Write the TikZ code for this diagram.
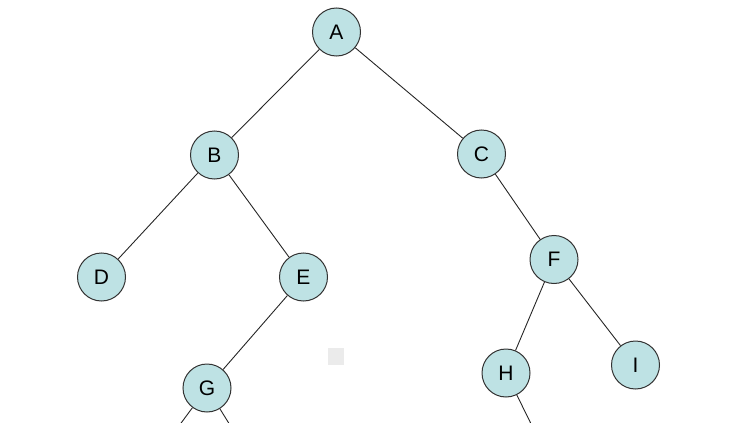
\documentclass[tikz,border=0pt]{standalone}
\usepackage{fontspec}
\setmainfont{Liberation Sans}
\definecolor{nodefill}{RGB}{190,226,228}
\tikzset{vert/.style={circle, draw=black!80, fill=nodefill, line width=1pt,
  minimum size=48pt, inner sep=0pt, font=\fontsize{21}{21}\selectfont},
  edge/.style={line width=0.9pt, black!85}}
\begin{document}
\begin{tikzpicture}[x=1pt,y=-1pt]
\useasboundingbox (0,0) rectangle (753,423);
\clip (0,0) rectangle (753,423);

\fill[black!8] (328,348) rectangle (344,365);

\node[vert] (A) at (336.5,32) {A};
\node[vert] (B) at (214.5,155) {B};
\node[vert] (C) at (481.5,154) {C};
\node[vert] (D) at (101.5,277) {D};
\node[vert] (E) at (303.5,277) {E};
\node[vert] (F) at (554,259.5) {F};
\node[vert] (G) at (207,388) {G};
\node[vert] (H) at (506,373) {H};
\node[vert] (I) at (635.5,365) {I};

% children below the edge of the picture
\coordinate (GL) at (170,438);
\coordinate (GR) at (238,438);
\coordinate (HR) at (538,438);

\draw[edge] (A) -- (B);
\draw[edge] (A) -- (C);
\draw[edge] (B) -- (D);
\draw[edge] (B) -- (E);
\draw[edge] (C) -- (F);
\draw[edge] (E) -- (G);
\draw[edge] (F) -- (H);
\draw[edge] (F) -- (I);
\draw[edge] (G) -- (GL);
\draw[edge] (G) -- (GR);
\draw[edge] (H) -- (HR);
\end{tikzpicture}
\end{document}
